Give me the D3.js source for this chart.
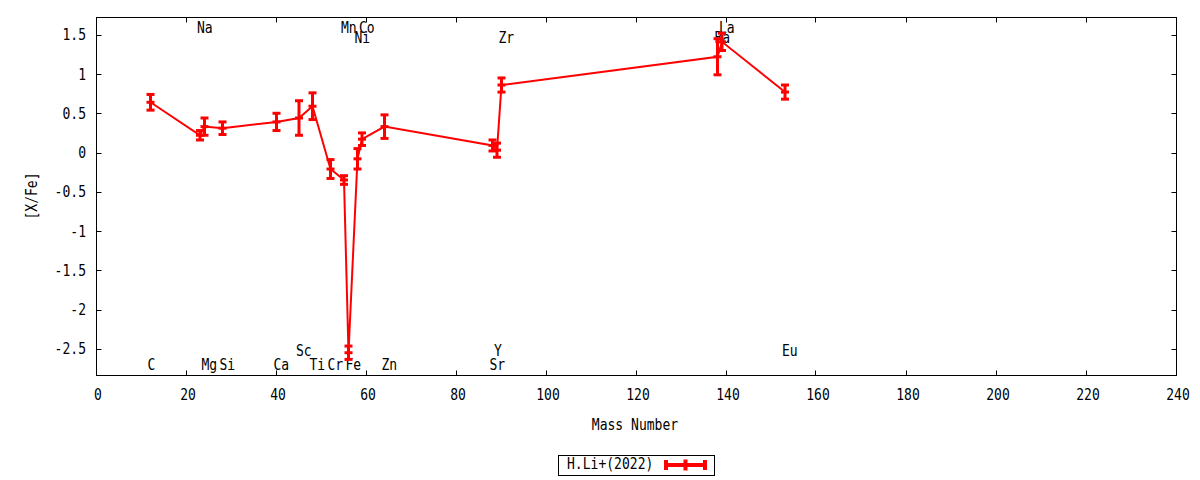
<!DOCTYPE html>
<html>
<head>
	<meta charset="utf-8">
	<script src="https://d3js.org/d3.v7.min.js"></script>
	<title>[X/Fe] vs Mass Number</title>
	<style>
		body { margin: 0; background: #fff; }
		text { font-family: "DejaVu Sans Mono", monospace; font-size: 15px; fill: #000; }
	</style>
</head>
<body>
	<div id="chart"></div>

	<script type="text/javascript">

		// data
		var elements    = ["C", "Na", "Mg", "Si", "Ca", "Sc", "Ti", "Cr", "Mn", "Fe", "Ni", "Co", "Zn", "Sr", "Y", "Zr", "Ba", "La", "Eu"];
		var massNumbers = [12, 23, 24, 28, 40, 45, 48, 52, 55, 56, 58, 59, 64, 88, 89, 90, 138, 139, 153];
		var xfeValues   = [0.64, 0.22, 0.33, 0.31, 0.39, 0.44, 0.59, -0.21, -0.35, -2.55, -0.08, 0.17, 0.33, 0.09, 0.03, 0.86, 1.22, 1.41, 0.77];
		var xfeErrors   = [0.10, 0.06, 0.11, 0.08, 0.11, 0.22, 0.17, 0.12, 0.055, 0.085, 0.13, 0.08, 0.15, 0.07, 0.09, 0.09, 0.23, 0.11, 0.09];
		// which label row each element name sits in (0,1 = top, 2,3 = bottom)
		var labelRows   = [3, 0, 3, 3, 3, 2, 3, 3, 0, 3, 1, 0, 3, 3, 2, 1, 1, 0, 2];

		var xTicks = [0, 20, 40, 60, 80, 100, 120, 140, 160, 180, 200, 220, 240];
		var yTicks = [1.5, 1, 0.5, 0, -0.5, -1, -1.5, -2, -2.5];
		var seriesName = "H.Li+(2022)";

		var width = 1200, height = 480;
		var red = "#ff0000";
		var sx = 0.87; // squeeze the mono font a bit

		var svg = d3.select("#chart").append("svg")
			.attr("width", width)
			.attr("height", height);

		var x = d3.scaleLinear().domain([0, 240]).range([96.5, 1176.5]);
		var y = d3.scaleLinear().domain([-2.84, 1.72]).range([375.5, 17.5]);

		function label(g, px, py, s, anchor) {
			return g.append("text")
				.attr("transform", "translate(" + px + "," + py + ") scale(" + sx + ",1)")
				.attr("text-anchor", anchor || "start")
				.text(s);
		}

		// frame
		svg.append("rect")
			.attr("x", x(0)).attr("y", y(1.72))
			.attr("width", x(240) - x(0))
			.attr("height", y(-2.84) - y(1.72))
			.attr("fill", "none")
			.attr("stroke", "#000")
			.attr("stroke-width", 1);

		// ticks, inward and mirrored
		var ticks = svg.append("g").attr("stroke", "#000").attr("stroke-width", 1);
		xTicks.forEach(function(t) {
			var px = Math.round(x(t)) - 0.5;
			ticks.append("line").attr("x1", px).attr("x2", px).attr("y1", y(-2.84)).attr("y2", y(-2.84) - 5);
			ticks.append("line").attr("x1", px).attr("x2", px).attr("y1", y(1.72)).attr("y2", y(1.72) + 5);
		});
		yTicks.forEach(function(t) {
			var py = Math.round(y(t)) + 0.5;
			ticks.append("line").attr("x1", x(0)).attr("x2", x(0) + 5).attr("y1", py).attr("y2", py);
			ticks.append("line").attr("x1", x(240)).attr("x2", x(240) - 5).attr("y1", py).attr("y2", py);
		});

		// tick labels
		var tl = svg.append("g");
		xTicks.forEach(function(t) {
			label(tl, x(t) + 1.5, 400, d3.format("")(t), "middle");
		});
		yTicks.forEach(function(t) {
			label(tl, 86, y(t) + 5.5, String(t), "end");
		});

		// axis titles
		label(svg, 635, 430, "Mass Number", "middle");
		svg.append("text")
			.attr("transform", "translate(37,196) rotate(-90) scale(" + sx + ",1)")
			.attr("text-anchor", "middle")
			.text("[X/Fe]");

		// element name labels
		var rowY = [33, 43, 356, 370];
		var names = svg.append("g");
		elements.forEach(function(el, i) {
			label(names, x(massNumbers[i]) - 3, rowY[labelRows[i]], el, "start");
		});

		// connecting line
		var pts = massNumbers.map(function(m, i) { return [m, xfeValues[i], xfeErrors[i]]; });
		var line = d3.line()
			.x(function(d) { return x(d[0]); })
			.y(function(d) { return y(d[1]); });

		svg.append("path")
			.datum(pts)
			.attr("d", line)
			.attr("fill", "none")
			.attr("stroke", red)
			.attr("stroke-width", 2);

		// error bars with caps and "+" point
		var eb = svg.append("g").attr("stroke", red).attr("stroke-width", 3);
		pts.forEach(function(d) {
			var cx = x(d[0]);
			var top = y(d[1] + d[2]), bot = y(d[1] - d[2]), mid = y(d[1]);
			eb.append("line").attr("x1", cx).attr("x2", cx).attr("y1", top).attr("y2", bot);
			eb.append("line").attr("x1", cx - 4).attr("x2", cx + 4).attr("y1", top).attr("y2", top);
			eb.append("line").attr("x1", cx - 4).attr("x2", cx + 4).attr("y1", bot).attr("y2", bot);
			eb.append("line").attr("x1", cx - 4).attr("x2", cx + 4).attr("y1", mid).attr("y2", mid);
		});

		// legend
		var lg = svg.append("g");
		lg.append("rect")
			.attr("x", 558.5).attr("y", 455.5)
			.attr("width", 156).attr("height", 20)
			.attr("fill", "#fff").attr("stroke", "#000").attr("stroke-width", 1);
		label(lg, 567, 469, seriesName, "start");
		var ls = lg.append("g").attr("stroke", red);
		ls.append("line").attr("x1", 664).attr("x2", 707).attr("y1", 465).attr("y2", 465).attr("stroke-width", 4);
		ls.append("line").attr("x1", 666).attr("x2", 666).attr("y1", 460).attr("y2", 470).attr("stroke-width", 4);
		ls.append("line").attr("x1", 705).attr("x2", 705).attr("y1", 460).attr("y2", 470).attr("stroke-width", 4);
		ls.append("line").attr("x1", 685.5).attr("x2", 685.5).attr("y1", 459.5).attr("y2", 470.5).attr("stroke-width", 4);

	</script>
</body>
</html>
